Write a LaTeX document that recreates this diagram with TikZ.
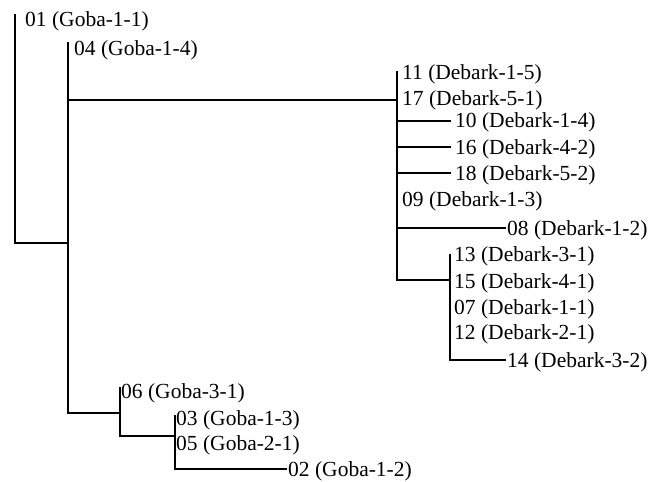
\documentclass[tikz,border=0pt]{standalone}
\usepackage{fontspec}
\setmainfont{Liberation Serif}
\begin{document}
\begin{tikzpicture}[x=1pt,y=-1pt,
  lbl/.style={anchor=west, inner sep=0pt, text height=14pt, text depth=0pt, font=\fontsize{21.5}{24}\selectfont},
  br/.style={line width=1.1pt, line cap=rect}]
\useasboundingbox (0,0) rectangle (660,481);
% labels
\node[lbl] (n01) at (25,20) {01 (Goba-1-1)};
\node[lbl] (n04) at (74,49) {04 (Goba-1-4)};
\node[lbl] (n11) at (402,73) {11 (Debark-1-5)};
\node[lbl] (n17) at (402,99) {17 (Debark-5-1)};
\node[lbl] (n10) at (455,121) {10 (Debark-1-4)};
\node[lbl] (n16) at (455,147) {16 (Debark-4-2)};
\node[lbl] (n18) at (455,173) {18 (Debark-5-2)};
\node[lbl] (n09) at (402,199) {09 (Debark-1-3)};
\node[lbl] (n08) at (507,228) {08 (Debark-1-2)};
\node[lbl] (n13) at (454,254) {13 (Debark-3-1)};
\node[lbl] (n15) at (454,281) {15 (Debark-4-1)};
\node[lbl] (n07) at (454,307) {07 (Debark-1-1)};
\node[lbl] (n12) at (454,332) {12 (Debark-2-1)};
\node[lbl] (n14) at (507,360) {14 (Debark-3-2)};
\node[lbl] (n06) at (121,391) {06 (Goba-3-1)};
\node[lbl] (n03) at (176,418) {03 (Goba-1-3)};
\node[lbl] (n05) at (176,443) {05 (Goba-2-1)};
\node[lbl] (n02) at (288,469) {02 (Goba-1-2)};
% internal coordinates
\coordinate (rT) at (15,15);
\coordinate (rB) at (15,243);
\coordinate (aT) at (68,43);
\coordinate (aJ) at (68,243);
\coordinate (aD) at (68,100);
\coordinate (aB) at (68,413);
\coordinate (dT) at (397,72);
\coordinate (dJ) at (397,100);
\coordinate (dB) at (397,280);
\coordinate (eT) at (450,255);
\coordinate (eJ) at (450,280);
\coordinate (eB) at (450,360);
\coordinate (gT) at (120,388);
\coordinate (gJ) at (120,413);
\coordinate (gB) at (120,436);
\coordinate (hT) at (175,416);
\coordinate (hJ) at (175,436);
\coordinate (hB) at (175,469);
% branches
\draw[br] (rT) -- (rB) -- (aJ);
\draw[br] (aT) -- (aB);
\draw[br] (aD) -- (dJ);
\draw[br] (dT) -- (dB) -- (eJ);
\draw[br] (dT |- n10.west) -- ([xshift=-5pt]n10.west);
\draw[br] (dT |- n16.west) -- ([xshift=-5pt]n16.west);
\draw[br] (dT |- n18.west) -- ([xshift=-5pt]n18.west);
\draw[br] (dT |- n08.west) -- ([xshift=-2pt]n08.west);
\draw[br] (eT) -- (eB) -- ([xshift=-2pt]n14.west);
\draw[br] (aB) -- (gJ);
\draw[br] (gT) -- (gB) -- (hJ);
\draw[br] (hT) -- (hB) -- ([xshift=-2pt]n02.west);
\end{tikzpicture}
\end{document}
